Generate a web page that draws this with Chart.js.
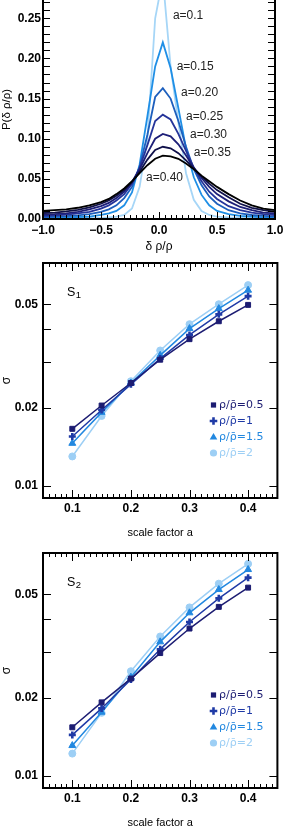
<!DOCTYPE html>
<html><head><meta charset="utf-8">
<script src="https://cdn.jsdelivr.net/npm/chart.js@4"></script>
<style>
html,body{margin:0;padding:0;background:#fff;width:284px;height:828px;overflow:hidden}
canvas{position:absolute;left:0}
</style></head><body>
<canvas id="c1" width="284" height="255" style="top:0"></canvas>
<canvas id="c2" width="284" height="285" style="top:255px"></canvas>
<canvas id="c3" width="284" height="288" style="top:540px"></canvas>
<script>
// ---------- Panel 1 data: P(δρ/ρ) ----------
const deltaX = [-1, -0.9, -0.8, -0.7, -0.6, -0.5, -0.433, -0.367, -0.3, -0.233, -0.167, -0.1, -0.033, 0.033, 0.1, 0.167, 0.233, 0.3, 0.367, 0.433, 0.5, 0.6, 0.7, 0.8, 0.9, 1.0];
const pdfA010 = [0.0005,0.0005,0.0008,0.001,0.001,0.0015,0.002,0.003,0.005,0.013,0.040,0.100,0.250,0.300,0.190,0.120,0.057,0.024,0.010,0.005,0.003,0.002,0.0015,0.001,0.001,0.0008];
const pdfA015 = [0.0015,0.0018,0.002,0.0025,0.003,0.005,0.007,0.010,0.017,0.033,0.068,0.128,0.190,0.220,0.188,0.138,0.088,0.052,0.030,0.017,0.010,0.006,0.004,0.003,0.002,0.0018];
const pdfA020 = [0.0025,0.003,0.0035,0.0045,0.006,0.009,0.012,0.017,0.026,0.040,0.065,0.105,0.152,0.163,0.150,0.122,0.090,0.062,0.042,0.028,0.019,0.011,0.007,0.005,0.004,0.003];
const pdfA025 = [0.004,0.0045,0.0055,0.007,0.009,0.013,0.017,0.023,0.031,0.044,0.064,0.092,0.122,0.130,0.124,0.106,0.085,0.064,0.047,0.034,0.025,0.016,0.011,0.008,0.006,0.005];
const pdfA030 = [0.0055,0.006,0.007,0.009,0.012,0.016,0.020,0.026,0.034,0.046,0.062,0.082,0.100,0.106,0.103,0.093,0.079,0.064,0.051,0.040,0.031,0.022,0.015,0.011,0.008,0.007];
const pdfA035 = [0.0075,0.008,0.0095,0.0115,0.0145,0.019,0.023,0.029,0.036,0.046,0.059,0.074,0.086,0.090,0.088,0.082,0.073,0.063,0.053,0.044,0.036,0.027,0.019,0.014,0.011,0.009];
const pdfA040 = [0.010,0.011,0.012,0.014,0.017,0.021,0.025,0.031,0.038,0.047,0.057,0.067,0.075,0.079,0.078,0.075,0.069,0.062,0.054,0.047,0.040,0.031,0.023,0.017,0.013,0.011];
const pdfLabels = ['a=0.1','a=0.15','a=0.20','a=0.25','a=0.30','a=0.35','a=0.40'];
// label anchor positions (data coords)
const pdfLabelX = [0.12, 0.152, 0.19, 0.233, 0.267, 0.30, -0.112];
const pdfLabelY = [0.253, 0.19, 0.157, 0.128, 0.105, 0.083, 0.052];
const pdfXTicks = [-1, -0.5, 0, 0.5, 1];
const pdfYTicks = [0, 0.05, 0.10, 0.15, 0.20, 0.25];

// ---------- Panels 2/3 data: σ vs scale factor ----------
const scaleFactor = [0.1, 0.15, 0.2, 0.25, 0.3, 0.35, 0.4];
const s1Rho05 = [0.0166, 0.0204, 0.0249, 0.0306, 0.0367, 0.0430, 0.0497];
const s1Rho1  = [0.0155, 0.0196, 0.0246, 0.0309, 0.0381, 0.0457, 0.0537];
const s1Rho15 = [0.0146, 0.0192, 0.0249, 0.0318, 0.0403, 0.0481, 0.0566];
const s1Rho2  = [0.0130, 0.0186, 0.0253, 0.0332, 0.0419, 0.0500, 0.0592];
const s2Rho05 = [0.0154, 0.0192, 0.0237, 0.0297, 0.0369, 0.0447, 0.0530];
const s2Rho1  = [0.0144, 0.0182, 0.0235, 0.0307, 0.0391, 0.0482, 0.0579];
const s2Rho15 = [0.0131, 0.0176, 0.0240, 0.0328, 0.0424, 0.0521, 0.0622];
const s2Rho2  = [0.0122, 0.0175, 0.0253, 0.0344, 0.0445, 0.0549, 0.0654];
const rhoLabels = ['ρ/ρ\u0304=0.5', 'ρ/ρ\u0304=1', 'ρ/ρ\u0304=1.5', 'ρ/ρ\u0304=2'];
const sigmaTicks = [0.01, 0.02, 0.05];
const sigmaMinorTicks = [0.03, 0.04];
const aTicks = [0.1, 0.2, 0.3, 0.4];

// ---------- styles ----------
const FONT = "'Liberation Sans', Arial, Helvetica, sans-serif";
const LEGFONT = "'DejaVu Sans', 'Liberation Sans', sans-serif";
Chart.defaults.font.family = FONT;
Chart.defaults.color = '#000';
const pdfColors = ['#a6d6f7', '#1f8fe6', '#1d5fbd', '#25349a', '#1d1f78', '#10114a', '#000000'];
const rhoColors = ['#1c1c72', '#1f3aa6', '#2288e0', '#9dcff5'];
const rhoStyles = ['rect', 'cross', 'triangle', 'circle'];
const rhoRadius = [3.5, 3.5, 4, 3.5];
const rhoPBW = [1, 2.6, 1, 1];

const fixedTicks = arr => (s => { s.ticks = arr.map(v => ({ value: v })); });

// frame + inward tick marks
const frameTicks = {
  id: 'frameTicks',
  afterDatasetsDraw(chart, args, o) {
    const { ctx, chartArea: { left, right, top, bottom }, scales: { x, y } } = chart;
    ctx.save();
    ctx.strokeStyle = '#000';
    ctx.lineWidth = 1;
    ctx.beginPath();
    for (const t of o.xt) {
      const px = Math.round(x.getPixelForValue(t[0])) + 0.5;
      ctx.moveTo(px, bottom); ctx.lineTo(px, bottom - t[1]);
      if (o.top) { ctx.moveTo(px, top); ctx.lineTo(px, top + t[1]); }
    }
    for (const t of o.yt) {
      const py = Math.round(y.getPixelForValue(t[0])) + 0.5;
      ctx.moveTo(left, py); ctx.lineTo(left + t[1], py);
      ctx.moveTo(right, py); ctx.lineTo(right - t[1], py);
    }
    ctx.stroke();
    ctx.lineWidth = 2;
    ctx.beginPath();
    ctx.moveTo(left, top - 1); ctx.lineTo(left, bottom); ctx.lineTo(right, bottom); ctx.lineTo(right, top - 1);
    if (o.top) { ctx.moveTo(left, top); ctx.lineTo(right, top); }
    ctx.stroke();
    ctx.restore();
  }
};

// panel 1 curve labels
const pdfLabelPlugin = {
  id: 'pdfLabelPlugin',
  afterDatasetsDraw(chart) {
    const { ctx, scales: { x, y } } = chart;
    ctx.save();
    ctx.font = '12px ' + FONT;
    ctx.fillStyle = '#222';
    ctx.textAlign = 'left';
    ctx.textBaseline = 'middle';
    pdfLabels.forEach((t, i) => ctx.fillText(t, x.getPixelForValue(pdfLabelX[i]), y.getPixelForValue(pdfLabelY[i])));
    ctx.restore();
  }
};

function drawMarker(ctx, style, cx, cy, color) {
  ctx.fillStyle = color; ctx.strokeStyle = color;
  ctx.beginPath();
  if (style === 'rect') { ctx.fillRect(cx - 2.6, cy - 2.6, 5.2, 5.2); return; }
  if (style === 'cross') { ctx.lineWidth = 2.6; ctx.moveTo(cx - 3.8, cy); ctx.lineTo(cx + 3.8, cy); ctx.moveTo(cx, cy - 3.8); ctx.lineTo(cx, cy + 3.8); ctx.stroke(); return; }
  if (style === 'triangle') { ctx.moveTo(cx, cy - 4); ctx.lineTo(cx + 3.8, cy + 2.5); ctx.lineTo(cx - 3.8, cy + 2.5); ctx.closePath(); ctx.fill(); return; }
  ctx.arc(cx, cy, 3.6, 0, Math.PI * 2); ctx.fill();
}

// S-label and legend for sigma panels
const sigmaDecor = {
  id: 'sigmaDecor',
  afterDatasetsDraw(chart, args, o) {
    const { ctx, chartArea: { left, top } } = chart;
    ctx.save();
    ctx.fillStyle = '#000';
    ctx.textBaseline = 'alphabetic';
    ctx.textAlign = 'left';
    ctx.font = '12.5px ' + FONT;
    ctx.fillText('S', left + 24, top + 33);
    const w = ctx.measureText('S').width;
    ctx.font = '9.5px ' + FONT;
    ctx.fillText(o.sub, left + 24 + w + 0.5, top + 35);
    ctx.font = '11px ' + LEGFONT;
    ctx.textBaseline = 'middle';
    rhoLabels.forEach((t, i) => {
      const cy = top + 142 + i * 16;
      drawMarker(ctx, rhoStyles[i], left + 170.5, cy, rhoColors[i]);
      ctx.fillStyle = rhoColors[i];
      ctx.fillText(t, left + 176, cy + 0.5);
    });
    ctx.restore();
  }
};

// ---------- Panel 1 ----------
const pdfSeries = [pdfA010, pdfA015, pdfA020, pdfA025, pdfA030, pdfA035, pdfA040];
const xMinor1 = [];
for (let i = -20; i <= 20; i++) xMinor1.push([i * 0.05, i % 10 === 0 ? 7 : 4]);
const yMinor1 = [];
for (let i = 0; i <= 27; i++) yMinor1.push([i * 0.01, 7]);

new Chart(document.getElementById('c1'), {
  type: 'line',
  data: {
    datasets: pdfSeries.map((s, i) => ({
      label: pdfLabels[i],
      data: deltaX.map((xv, j) => ({ x: xv, y: s[j] })),
      borderColor: pdfColors[i],
      borderWidth: 1.8,
      pointRadius: 0,
      tension: 0,
      fill: false,
      order: 6 - i
    }))
  },
  options: {
    responsive: false, animation: false, events: [],
    layout: { padding: { left: 0, right: 9, top: 0, bottom: 0 } },
    plugins: { legend: { display: false }, tooltip: { enabled: false },
      frameTicks: { top: false, xt: xMinor1, yt: yMinor1 } },
    scales: {
      x: {
        type: 'linear', min: -1, max: 1,
        afterBuildTicks: fixedTicks(pdfXTicks),
        grid: { display: false, drawTicks: false }, border: { display: false },
        ticks: { padding: 4, autoSkip: false, maxRotation: 0, font: { size: 12, weight: 'bold' },
          callback: v => (v < 0 ? '\u2212' : '') + Math.abs(v).toFixed(1) },
        title: { display: true, text: 'δ ρ/ρ', font: { size: 12, lineHeight: 1 }, padding: { top: 0, bottom: 2.5 } },
        afterFit(s) { s.height = 36; s.paddingLeft = 0; s.paddingRight = 0; }
      },
      y: {
        type: 'linear', min: 0, max: 0.2728,
        afterBuildTicks: fixedTicks(pdfYTicks),
        grid: { display: false, drawTicks: false }, border: { display: false },
        ticks: { padding: 2, autoSkip: false, font: { size: 12, weight: 'bold' }, callback: v => v.toFixed(2) },
        title: { display: true, text: 'P(δ ρ/ρ)', font: { size: 11.5, lineHeight: 1 }, padding: { top: 1.5, bottom: 0 } },
        afterFit(s) { s.width = 43; s.paddingTop = 0; s.paddingBottom = 0; }
      }
    }
  },
  plugins: [frameTicks, pdfLabelPlugin]
});

// ---------- Panels 2 & 3 ----------
const xMinor2 = [];
for (let i = 5; i <= 45; i++) xMinor2.push([i / 100, i % 10 === 0 ? 8 : 4]);
const yTicks2 = sigmaTicks.concat(sigmaMinorTicks).map(v => [v, 8]);

function sigmaChart(id, series, sub, padTop, xAxisH, titlePad) {
  new Chart(document.getElementById(id), {
    type: 'line',
    data: {
      datasets: series.map((s, i) => ({
        label: rhoLabels[i],
        data: scaleFactor.map((a, j) => ({ x: a, y: s[j] })),
        borderColor: rhoColors[i],
        backgroundColor: rhoColors[i],
        pointBackgroundColor: rhoColors[i],
        pointBorderColor: rhoColors[i],
        pointStyle: rhoStyles[i],
        pointRadius: rhoRadius[i],
        pointBorderWidth: rhoPBW[i],
        borderWidth: 1.5,
        tension: 0,
        fill: false,
        clip: false,
        order: i
      }))
    },
    options: {
      responsive: false, animation: false, events: [],
      layout: { padding: { left: 0, right: 1, top: padTop, bottom: 0 } },
      plugins: { legend: { display: false }, tooltip: { enabled: false },
        frameTicks: { top: true, xt: xMinor2, yt: yTicks2 }, sigmaDecor: { sub: sub } },
      scales: {
        x: {
          type: 'linear', min: 0.05, max: 0.45,
          afterBuildTicks: fixedTicks(aTicks),
          grid: { display: false, drawTicks: false }, border: { display: false },
          ticks: { padding: 3, autoSkip: false, maxRotation: 0, font: { size: 12, weight: 'bold' }, callback: v => v.toFixed(1) },
          title: { display: true, text: 'scale factor a', font: { size: 11, lineHeight: 1 }, padding: { top: 0, bottom: titlePad } },
          afterFit(s) { s.height = xAxisH; s.paddingLeft = 0; s.paddingRight = 0; }
        },
        y: {
          type: 'logarithmic', min: 0.009, max: 0.072,
          afterBuildTicks: fixedTicks(sigmaTicks),
          grid: { display: false, drawTicks: false }, border: { display: false },
          ticks: { padding: 5, autoSkip: false, font: { size: 12, weight: 'bold' }, callback: v => Number(v).toFixed(2) },
          title: { display: true, text: 'σ', font: { size: 12, lineHeight: 1 }, padding: { top: 1, bottom: 0 } },
          afterFit(s) { s.width = 43; s.paddingTop = 0; s.paddingBottom = 0; }
        }
      }
    },
    plugins: [frameTicks, sigmaDecor]
  });
}
sigmaChart('c2', [s1Rho05, s1Rho1, s1Rho15, s1Rho2], '1', 8, 42, 1.5);
sigmaChart('c3', [s2Rho05, s2Rho1, s2Rho15, s2Rho2], '2', 13, 40, 0);
</script>
</body></html>
